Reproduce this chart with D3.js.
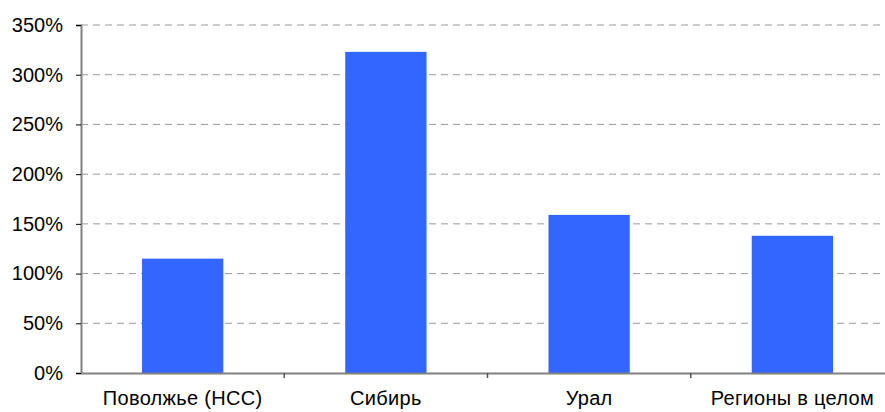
<!DOCTYPE html>
<html>
<head>
<meta charset="utf-8">
<script src="https://cdn.jsdelivr.net/npm/d3@7"></script>
<style>
  html, body { margin: 0; padding: 0; background: #fff; }
  svg { display: block; }
  text { font-family: Arial, "Liberation Sans", sans-serif; fill: #000; }
</style>
</head>
<body>
<svg id="chart" width="885" height="412"></svg>
<script>
// Regions and their values, in percent
const categories = ["Поволжье (НСС)", "Сибирь", "Урал", "Регионы в целом"];
const values = [115, 323, 159, 138];
const yTicks = [0, 50, 100, 150, 200, 250, 300, 350];

const svg = d3.select("#chart");
const plotLeft = 81, plotRight = 894, plotTop = 25, plotBottom = 373;

const x = d3.scaleBand()
  .domain(categories)
  .range([plotLeft, plotRight])
  .paddingInner(0.6)
  .paddingOuter(0.3);

const y = d3.scaleLinear()
  .domain([0, 350])
  .range([plotBottom, plotTop]);

// Dashed horizontal gridlines
svg.append("g")
  .selectAll("line")
  .data(yTicks.filter(d => d > 0))
  .join("line")
  .attr("x1", plotLeft)
  .attr("x2", plotRight)
  .attr("y1", d => y(d))
  .attr("y2", d => y(d))
  .attr("stroke", "#9a9a9a")
  .attr("stroke-width", 1)
  .attr("stroke-dasharray", "7,5");

// Bars
svg.append("g")
  .selectAll("rect")
  .data(values)
  .join("rect")
  .attr("x", (d, i) => x(categories[i]))
  .attr("width", x.bandwidth())
  .attr("y", d => y(d))
  .attr("height", d => y(0) - y(d))
  .attr("fill", "#3366ff");

// Y axis
const yAxis = svg.append("g")
  .attr("transform", `translate(${plotLeft},0)`)
  .call(d3.axisLeft(y).tickValues(yTicks).tickFormat(d => d + "%").tickSize(5).tickPadding(13));
yAxis.select(".domain").attr("stroke", "#808080").attr("stroke-width", 2);
yAxis.selectAll(".tick line").attr("stroke", "#000").attr("stroke-width", 1);
yAxis.selectAll("text").style("font-size", "20px").attr("fill", "#000");

// X axis with ticks at category boundaries
const xAxis = svg.append("g")
  .attr("transform", `translate(0,${plotBottom})`)
  .call(d3.axisBottom(x).tickSize(0).tickPadding(18));
xAxis.select(".domain").attr("stroke", "#808080").attr("stroke-width", 2);
xAxis.selectAll("text").style("font-size", "20px").attr("fill", "#000").attr("letter-spacing", "0.3px");

const step = x.step();
svg.append("g")
  .selectAll("line")
  .data(categories.slice(1))
  .join("line")
  .attr("x1", d => x(d) - step * 0.3)
  .attr("x2", d => x(d) - step * 0.3)
  .attr("y1", plotBottom)
  .attr("y2", plotBottom + 5)
  .attr("stroke", "#555")
  .attr("stroke-width", 1.5);
</script>
</body>
</html>
